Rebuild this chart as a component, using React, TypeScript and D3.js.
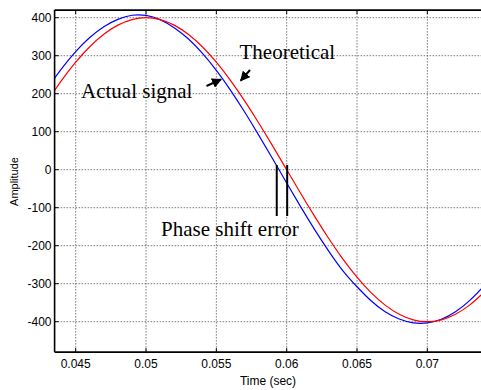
import React from "react";
import * as d3 from "d3";

const times = [0.043, 0.044, 0.045, 0.046, 0.047, 0.048, 0.049, 0.05, 0.051, 0.052, 0.053, 0.054, 0.055, 0.056, 0.057, 0.058, 0.059, 0.06, 0.061, 0.062, 0.063, 0.064, 0.065, 0.066, 0.067, 0.068, 0.069, 0.07, 0.071, 0.072, 0.073, 0.074];
const theoretical = [181.6, 235.1, 282.8, 323.6, 356.4, 380.4, 395.1, 400, 395.1, 380.4, 356.4, 323.6, 282.8, 235.1, 181.6, 123.6, 62.6, 0, -62.6, -123.6, -181.6, -235.1, -282.8, -323.6, -356.4, -380.4, -395.1, -400, -395.1, -380.4, -356.4, -323.6];
const actual = [214.9, 266.1, 310.8, 347.8, 376.3, 395.5, 406.5, 406.0, 395.0, 373.8, 344.5, 306.7, 261.2, 209.4, 152.4, 91.7, 28.7, -35.0, -97.9, -158.3, -214.8, -266.1, -308.0, -345.0, -374.0, -393.0, -403.0, -403.0, -393.5, -373.8, -344.5, -306.7];
const xTicks = [0.045, 0.05, 0.055, 0.06, 0.065, 0.07];
const xTickLabels = ["0.045", "0.05", "0.055", "0.06", "0.065", "0.07"];
const yTicks = [400, 300, 200, 100, 0, -100, -200, -300, -400];
const yTickLabels = ["400", "300", "200", "100", "0", "-100", "-200", "-300", "-400"];

export default function App() {
  const W = 481, H = 390;
  const left = 54.6, right = 483.6, top = 10.1, bottom = 352.1;
  const x = d3.scaleLinear().domain([0.0435, 0.074]).range([left, right]);
  const y = d3.scaleLinear().domain([-480, 420]).range([bottom, top]);
  const line = d3.line<[number, number]>().x(d => x(d[0])).y(d => y(d[1])).curve(d3.curveNatural);
  const redPath = line(times.map((t, i) => [t, theoretical[i]] as [number, number])) || "";
  const bluePath = line(times.map((t, i) => [t, actual[i]] as [number, number])) || "";
  const sans = "Arial, 'Liberation Sans', sans-serif";
  const serif = "'Times New Roman', 'Liberation Serif', serif";
  const gridStyle = { stroke: "#555", strokeWidth: 0.8, strokeDasharray: "1.5,1.5" };
  const zeroX = x(0.0594), zeroX2 = x(0.06);
  return (
    <svg width={W} height={H} style={{ position: "absolute", left: 0, top: 0, background: "#fff" }}>
      <defs>
        <clipPath id="plot"><rect x={left} y={top} width={right - left} height={bottom - top} /></clipPath>
        <marker id="ah" viewBox="0 0 10 10" refX="9" refY="5" markerWidth="10" markerHeight="10" markerUnits="userSpaceOnUse" orient="auto">
          <path d="M0,0 L10,5 L0,10 Z" fill="#000" />
        </marker>
      </defs>
      <rect x={0} y={0} width={W} height={H} fill="#fff" />
      {xTicks.map(t => (
        <line key={"gx" + t} x1={x(t)} x2={x(t)} y1={top} y2={bottom} style={gridStyle} />
      ))}
      {yTicks.map(v => (
        <line key={"gy" + v} x1={left} x2={right} y1={y(v)} y2={y(v)} style={gridStyle} />
      ))}
      <g clipPath="url(#plot)">
        <path d={bluePath} fill="none" stroke="#0000ff" strokeWidth={1.2} />
        <path d={redPath} fill="none" stroke="#ff0000" strokeWidth={1.2} />
      </g>
      {xTicks.map(t => (
        <g key={"tx" + t}>
          <line x1={x(t)} x2={x(t)} y1={bottom} y2={bottom - 4} stroke="#000" />
          <line x1={x(t)} x2={x(t)} y1={top} y2={top + 4} stroke="#000" />
        </g>
      ))}
      {yTicks.map(v => (
        <line key={"ty" + v} x1={left} x2={left + 4} y1={y(v)} y2={y(v)} stroke="#000" />
      ))}
      <line x1={left} x2={left} y1={top} y2={bottom} stroke="#000" strokeWidth={1.6} />
      <line x1={left} x2={W} y1={bottom} y2={bottom} stroke="#000" strokeWidth={1.6} />
      <line x1={left} x2={W} y1={top} y2={top} stroke="#000" strokeWidth={1.6} />
      {xTicks.map((t, i) => (
        <text key={"lx" + t} x={x(t)} y={368} textAnchor="middle" fontFamily={sans} fontSize={12}>{xTickLabels[i]}</text>
      ))}
      {yTicks.map((v, i) => (
        <text key={"ly" + v} x={51.5} y={y(v) + 4.3} textAnchor="end" fontFamily={sans} fontSize={12}>{yTickLabels[i]}</text>
      ))}
      <text x={268} y={385} textAnchor="middle" fontFamily={sans} fontSize={12}>Time (sec)</text>
      <text transform={`translate(18,${181.5}) rotate(-90)`} textAnchor="middle" fontFamily={sans} fontSize={11}>Amplitude</text>
      <text x={239.5} y={59} fontFamily={serif} fontSize={21}>Theoretical</text>
      <text x={81} y={98} fontFamily={serif} fontSize={21}>Actual signal</text>
      <text x={161} y={236} fontFamily={serif} fontSize={21}>Phase shift error</text>
      <line x1={206.5} y1={86} x2={221} y2={79.3} stroke="#000" strokeWidth={2} markerEnd="url(#ah)" />
      <line x1={250} y1={70} x2={240.7} y2={80.7} stroke="#000" strokeWidth={2} markerEnd="url(#ah)" />
      <line x1={zeroX - 1.5} x2={zeroX - 1.5} y1={165} y2={216} stroke="#000" strokeWidth={2} />
      <line x1={zeroX2 + 0.5} x2={zeroX2 + 0.5} y1={165} y2={216} stroke="#000" strokeWidth={2} />
    </svg>
  );
}
